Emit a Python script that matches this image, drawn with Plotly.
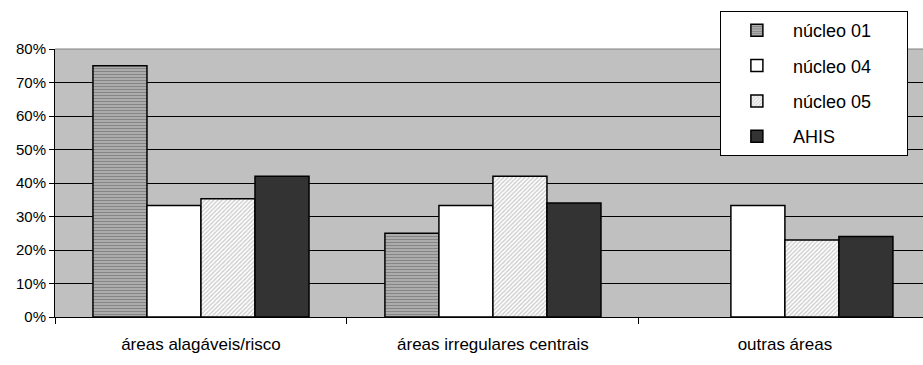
import plotly.graph_objects as go

categories = ["áreas alagáveis/risco", "áreas irregulares centrais", "outras áreas"]
series_names = ["núcleo 01", "núcleo 04", "núcleo 05", "AHIS"]
nucleo01 = [0.75, 0.25, 0.0]
nucleo04 = [0.333, 0.333, 0.333]
nucleo05 = [0.353, 0.42, 0.23]
ahis = [0.42, 0.34, 0.24]
y_ticks = [0, 0.1, 0.2, 0.3, 0.4, 0.5, 0.6, 0.7, 0.8]
y_tick_labels = ["0%", "10%", "20%", "30%", "40%", "50%", "60%", "70%", "80%"]

values = [nucleo01, nucleo04, nucleo05, ahis]
styles = [
    dict(color="#a8a8a8", pattern=dict(shape="-", fgcolor="#5a5a5a", bgcolor="#b0b0b0", size=3, solidity=0.4)),
    dict(color="#ffffff"),
    dict(color="#ffffff", pattern=dict(shape="/", fgcolor="#9a9a9a", bgcolor="#ffffff", size=3, solidity=0.45)),
    dict(color="#333333"),
]

fig = go.Figure()
for i, (name, vals, st) in enumerate(zip(series_names, values, styles)):
    widths = [1.5 if v > 0 else 0 for v in vals]
    marker = dict(line=dict(color="#000000", width=widths), **st)
    fig.add_trace(go.Bar(
        x=categories, y=vals, name=name + "\u00a0" * 6, marker=marker,
        legendgroup=f"g{i}", hoverinfo="skip",
    ))

fig.update_layout(
    width=923, height=365,
    margin=dict(l=55, r=0, t=49, b=48),
    paper_bgcolor="#ffffff",
    plot_bgcolor="#c0c0c0",
    barmode="group",
    bargap=0.26,
    bargroupgap=0,
    font=dict(family="Liberation Sans, Arial, sans-serif", color="#000000"),
    legend=dict(
        x=0.766, y=1.142, xanchor="left", yanchor="top",
        bgcolor="#ffffff", bordercolor="#000000", borderwidth=1,
        font=dict(family="Liberation Sans, Arial", size=18, color="#000000"),
        tracegroupgap=9,
        traceorder="grouped",
        itemwidth=62,
    ),
    xaxis=dict(
        range=[-0.5, 2.473],
        showgrid=False,
        showline=True, linecolor="#000000", linewidth=1,
        ticks="outside", tickson="boundaries", ticklen=6, tickcolor="#000000",
        ticklabelstandoff=12,
        tickfont=dict(family="Liberation Sans, Arial", size=17, color="#000000"),
        fixedrange=True,
    ),
    yaxis=dict(
        range=[0, 0.8],
        tickvals=y_ticks, ticktext=y_tick_labels,
        showgrid=True, gridcolor="#000000", gridwidth=1,
        showline=True, linecolor="#000000", linewidth=1,
        ticks="outside", ticklen=5, tickcolor="#000000",
        tickfont=dict(family="Liberation Sans, Arial", size=15, color="#000000"),
        zeroline=False,
        fixedrange=True,
    ),
    shapes=[dict(type="line", xref="paper", yref="paper", x0=0, x1=1, y0=1, y1=1,
                 line=dict(color="#808080", width=1))],
)

fig.write_html("out.html")
